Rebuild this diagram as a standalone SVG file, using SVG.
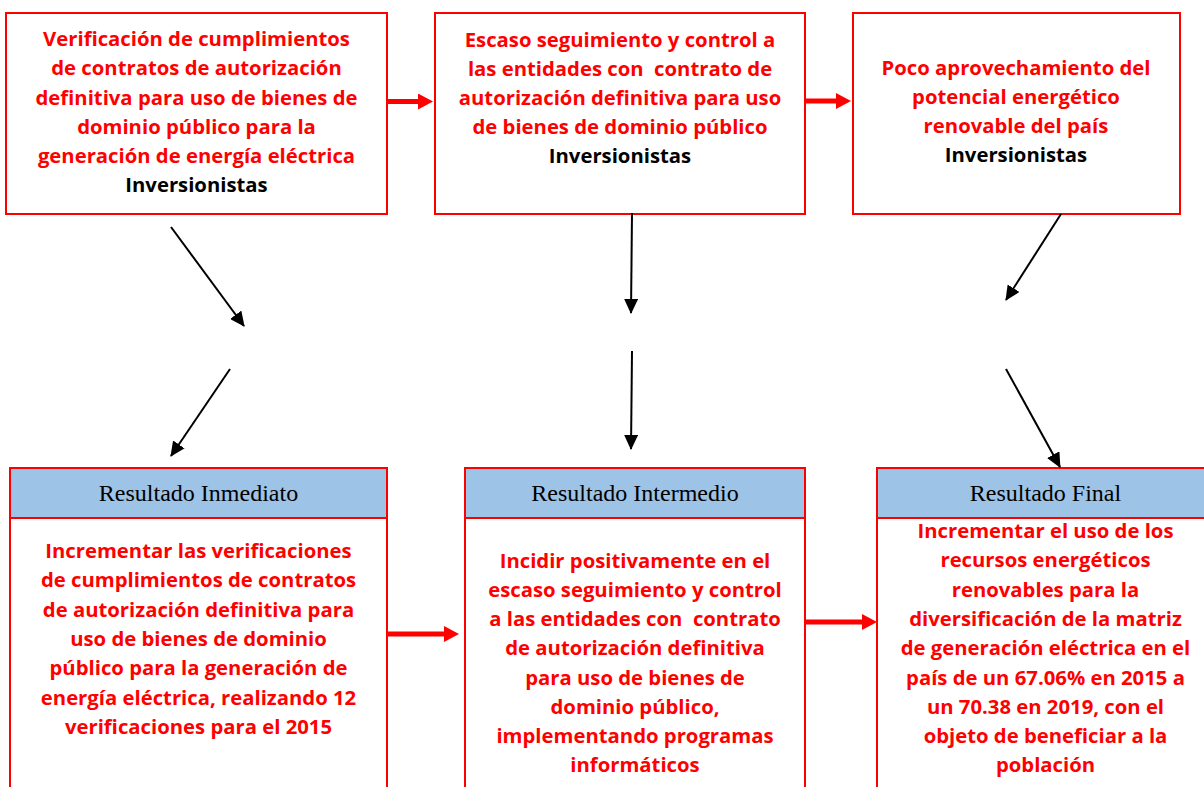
<svg xmlns="http://www.w3.org/2000/svg" width="1204" height="787" viewBox="0 0 1204 787">
<defs>
<style>
.box{fill:#fff;stroke:#ff0000;stroke-width:2}
.hdr{fill:#9dc3e6;stroke:#ff0000;stroke-width:2}
.t{font-family:"Open Sans","Noto Sans",sans-serif;font-weight:bold;font-size:20.3px;fill:#ff0000;text-anchor:middle}
.k{fill:#000}
.h{font-family:"Liberation Serif","Times New Roman",serif;font-size:24px;fill:#000;text-anchor:middle}
.ba{stroke:#000;stroke-width:2;fill:none;marker-end:url(#bh)}
.ra{stroke:#ff0000;stroke-width:5;fill:none;marker-end:url(#rh)}
</style>
<marker id="bh" markerUnits="userSpaceOnUse" markerWidth="15" markerHeight="14" refX="14" refY="7" orient="auto"><path d="M0,0 L15,7 L0,14 z" fill="#000"/></marker>
<marker id="rh" markerUnits="userSpaceOnUse" markerWidth="15" markerHeight="16" refX="5" refY="8" orient="auto"><path d="M0,0 L15,8 L0,16 z" fill="#ff0000"/></marker>
</defs>
<rect width="1204" height="787" fill="#fff"/>
<g id="n1">
<rect class="box" x="6" y="13" width="381" height="201"/>
<text class="t" x="196.5" y="46">Verificación de cumplimientos</text>
<text class="t" x="196.5" y="75">de contratos de autorización</text>
<text class="t" x="196.5" y="105">definitiva para uso de bienes de</text>
<text class="t" x="196.5" y="134">dominio público para la</text>
<text class="t" x="196.5" y="163">generación de energía eléctrica</text>
<text class="t k" x="196.5" y="192">Inversionistas</text>
</g>
<g id="n2">
<rect class="box" x="435" y="13" width="370" height="201"/>
<text class="t" x="620" y="47">Escaso seguimiento y control a</text>
<text class="t" x="620" y="76" xml:space="preserve">las entidades con  contrato de</text>
<text class="t" x="620" y="105">autorización definitiva para uso</text>
<text class="t" x="620" y="134">de bienes de dominio público</text>
<text class="t k" x="620" y="163">Inversionistas</text>
</g>
<g id="n3">
<rect class="box" x="853" y="13" width="327" height="201"/>
<text class="t" x="1016" y="75">Poco aprovechamiento del</text>
<text class="t" x="1016" y="104">potencial energético</text>
<text class="t" x="1016" y="133">renovable del país</text>
<text class="t k" x="1016" y="162">Inversionistas</text>
</g>
<g id="n4">
<rect class="box" x="10" y="468" width="377" height="340"/>
<rect class="hdr" x="10" y="468" width="377" height="50"/>
<text class="h" x="198.5" y="501">Resultado Inmediato</text>
<text class="t" x="198.5" y="558">Incrementar las verificaciones</text>
<text class="t" x="198.5" y="587">de cumplimientos de contratos</text>
<text class="t" x="198.5" y="617">de autorización definitiva para</text>
<text class="t" x="198.5" y="646">uso de bienes de dominio</text>
<text class="t" x="198.5" y="675">público para la generación de</text>
<text class="t" x="198.5" y="705">energía eléctrica, realizando 12</text>
<text class="t" x="198.5" y="734">verificaciones para el 2015</text>
</g>
<g id="n5">
<rect class="box" x="465" y="468" width="340" height="340"/>
<rect class="hdr" x="465" y="468" width="340" height="50"/>
<text class="h" x="635" y="501">Resultado Intermedio</text>
<text class="t" x="635" y="568">Incidir positivamente en el</text>
<text class="t" x="635" y="597">escaso seguimiento y control</text>
<text class="t" x="635" y="626" xml:space="preserve">a las entidades con  contrato</text>
<text class="t" x="635" y="655">de autorización definitiva</text>
<text class="t" x="635" y="685">para uso de bienes de</text>
<text class="t" x="635" y="714">dominio público,</text>
<text class="t" x="635" y="743">implementando programas</text>
<text class="t" x="635" y="772">informáticos</text>
</g>
<g id="n6">
<rect class="box" x="877" y="468" width="337" height="340"/>
<rect class="hdr" x="877" y="468" width="337" height="50"/>
<text class="h" x="1045.5" y="501">Resultado Final</text>
<text class="t" x="1045.5" y="538">Incrementar el uso de los</text>
<text class="t" x="1045.5" y="567">recursos energéticos</text>
<text class="t" x="1045.5" y="597">renovables para la</text>
<text class="t" x="1045.5" y="626">diversificación de la matriz</text>
<text class="t" x="1045.5" y="655">de generación eléctrica en el</text>
<text class="t" x="1045.5" y="685">país de un 67.06% en 2015 a</text>
<text class="t" x="1045.5" y="714">un 70.38 en 2019, con el</text>
<text class="t" x="1045.5" y="743">objeto de beneficiar a la</text>
<text class="t" x="1045.5" y="772">población</text>
</g>
<g id="connectors">
<line class="ra" x1="388" y1="101.5" x2="423" y2="101.5"/>
<line class="ra" x1="806" y1="101" x2="841" y2="101"/>
<line class="ra" x1="388" y1="634" x2="449" y2="634"/>
<line class="ra" x1="806" y1="622" x2="867" y2="622"/>
<line class="ba" x1="171" y1="227" x2="244" y2="326"/>
<line class="ba" x1="230" y1="369" x2="171" y2="456"/>
<line class="ba" x1="632" y1="213" x2="631" y2="313"/>
<line class="ba" x1="632" y1="351" x2="631" y2="449"/>
<line class="ba" x1="1061" y1="214" x2="1006" y2="300"/>
<line class="ba" x1="1006" y1="369" x2="1060" y2="467"/>
</g>
</svg>
